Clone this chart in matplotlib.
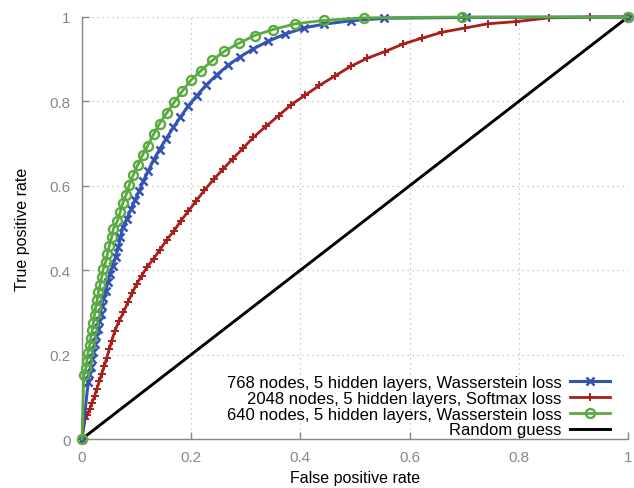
import matplotlib
matplotlib.use("Agg")
import matplotlib.pyplot as plt

plt.rcParams['font.family'] = ['Liberation Sans', 'DejaVu Sans']

# ---- data ----
fpr_768 = [0.0, 0.0115, 0.013, 0.016, 0.018, 0.021, 0.023, 0.026, 0.029, 0.031, 0.034,
           0.036, 0.039, 0.0435, 0.0472, 0.0514, 0.0563, 0.0618, 0.0666, 0.0705,
           0.0747, 0.082, 0.090, 0.097, 0.105, 0.1125, 0.1217, 0.131, 0.142, 0.154,
           0.1676, 0.180, 0.195, 0.210, 0.2275, 0.247, 0.268, 0.290, 0.313, 0.340,
           0.371, 0.406, 0.443, 0.492, 0.554, 0.703, 1.0]
tpr_768 = [0.0, 0.135, 0.153, 0.171, 0.189, 0.207, 0.225, 0.243, 0.261, 0.279, 0.297,
           0.315, 0.333, 0.351, 0.371, 0.391, 0.411, 0.432, 0.454, 0.478,
           0.502, 0.521, 0.545, 0.566, 0.588, 0.612, 0.636, 0.661, 0.686, 0.711,
           0.739, 0.762, 0.790, 0.813, 0.839, 0.863, 0.886, 0.906, 0.924, 0.942,
           0.959, 0.974, 0.983, 0.991, 0.997, 0.999, 1.0]

fpr_2048 = [0.0, 0.0055, 0.010, 0.014, 0.018, 0.023, 0.027, 0.032, 0.036, 0.041, 0.0455,
            0.050, 0.0545, 0.0605, 0.068, 0.076, 0.084, 0.092, 0.100, 0.1095, 0.119,
            0.131, 0.143, 0.155, 0.169, 0.181, 0.195, 0.209, 0.224, 0.241, 0.258,
            0.276, 0.295, 0.314, 0.337, 0.360, 0.383, 0.409, 0.435, 0.463, 0.492,
            0.522, 0.5547, 0.588, 0.623, 0.660, 0.7015, 0.744, 0.7945, 0.8557, 0.931, 1.0]
tpr_2048 = [0.0, 0.047, 0.057, 0.070, 0.085, 0.101, 0.119, 0.137, 0.155, 0.173, 0.193,
            0.213, 0.233, 0.257, 0.280, 0.300, 0.324, 0.346, 0.367, 0.387, 0.407,
            0.427, 0.449, 0.4716, 0.494, 0.517, 0.540, 0.564, 0.589, 0.615, 0.639,
            0.664, 0.689, 0.715, 0.741, 0.766, 0.792, 0.815, 0.838, 0.860, 0.883,
            0.902, 0.918, 0.936, 0.950, 0.964, 0.974, 0.984, 0.989, 0.998, 1.0, 1.0]

fpr_640 = [0.0, 0.0035, 0.007, 0.009, 0.011, 0.014, 0.016, 0.019, 0.021, 0.023, 0.025,
           0.028, 0.030, 0.033, 0.036, 0.039, 0.0435, 0.0465, 0.050, 0.0545, 0.0575,
           0.065, 0.0697, 0.0747, 0.0807, 0.0868, 0.094, 0.102, 0.111, 0.1205, 0.131,
           0.142, 0.155, 0.169, 0.184, 0.200, 0.218, 0.2385, 0.261, 0.2875, 0.316,
           0.349, 0.391, 0.443, 0.516, 0.696, 1.0]
tpr_640 = [0.0, 0.152, 0.168, 0.186, 0.204, 0.222, 0.240, 0.258, 0.276, 0.294, 0.312,
           0.330, 0.348, 0.365, 0.383, 0.403, 0.420, 0.438, 0.458, 0.478, 0.498,
           0.517, 0.537, 0.559, 0.578, 0.603, 0.626, 0.649, 0.673, 0.695, 0.722,
           0.747, 0.772, 0.798, 0.825, 0.851, 0.873, 0.897, 0.919, 0.938, 0.956,
           0.970, 0.984, 0.992, 0.998, 1.0, 1.0]

fpr_rand = [0.0, 1.0]
tpr_rand = [0.0, 1.0]

labels = ["768 nodes, 5 hidden layers, Wasserstein loss",
          "2048 nodes, 5 hidden layers, Softmax loss",
          "640 nodes, 5 hidden layers, Wasserstein loss",
          "Random guess"]
ticks = [0, 0.2, 0.4, 0.6, 0.8, 1]
tick_labels = ["0", "0.2", "0.4", "0.6", "0.8", "1"]

blue = "#3553b5"
red = "#a81f1c"
green = "#5aab3f"

fig = plt.figure(figsize=(6.34, 4.89), dpi=100)
ax = fig.add_axes([0.1293, 0.1002, 0.8612, 0.8630])

ax.plot(fpr_768, tpr_768, color=blue, lw=2.2, marker='x', ms=6, mew=1.8, label=labels[0], zorder=4)
ax.plot(fpr_2048, tpr_2048, color=red, lw=2.0, marker='+', ms=5.5, mew=1.4, label=labels[1], zorder=3)
ax.plot(fpr_640, tpr_640, color=green, lw=2.0, marker='o', ms=6.5, mew=1.7, mfc='none', label=labels[2], zorder=5)
ax.plot(fpr_rand, tpr_rand, color='black', lw=2.1, label=labels[3], zorder=2)

ax.set_xlim(0, 1)
ax.set_ylim(0, 1)
ax.set_xticks(ticks)
ax.set_xticklabels(tick_labels)
ax.set_yticks(ticks)
ax.set_yticklabels(tick_labels)
ax.grid(True, color='#bbbbbb', linestyle=(0, (1, 3)), linewidth=0.9)
ax.set_axisbelow(True)

for s in ['top', 'right']:
    ax.spines[s].set_visible(False)
for s in ['left', 'bottom']:
    ax.spines[s].set_color('#888888')
    ax.spines[s].set_linewidth(1.0)
ax.tick_params(direction='in', length=5, width=1, color='#888888',
               labelcolor='#888888', labelsize=11, pad=8)

ax.set_xlabel("False positive rate", fontsize=11.5, labelpad=4)
ax.set_ylabel("True positive rate", fontsize=11.5, labelpad=14)

leg = ax.legend(loc='lower right', markerfirst=False, frameon=False, fontsize=12,
                handlelength=2.4, handletextpad=0.5, labelspacing=0.05,
                borderaxespad=0.2, bbox_to_anchor=(0.985, -0.02))

for line in ax.get_lines():
    line.set_clip_on(False)

fig.savefig("out.png", dpi=100)
